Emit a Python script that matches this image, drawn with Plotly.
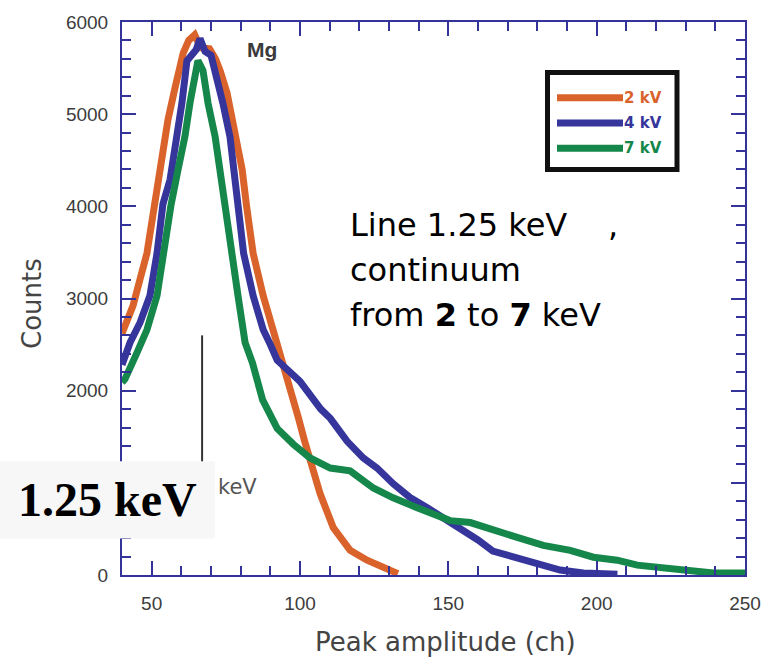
import plotly.graph_objects as go

# Mg line spectra (counts per channel) for three continuum settings
ch_2kv = [40, 41.7, 43.7, 46, 48.4, 50.5, 51.8, 53.5, 55.5, 57.9, 60.6, 62.5, 64.5, 66.5,
          69.5, 71.5, 73.1, 75.4, 78.1, 80.5, 82, 84.2, 87.6, 90, 92, 95, 97.7, 99.5,
          101.5, 103.4, 106.8, 111.2, 116.9, 122.6, 128, 133]
counts_2kv = [2620, 2770, 2920, 3200, 3490, 3920, 4220, 4580, 4940, 5290, 5660, 5800, 5860, 5720,
              5710, 5600, 5470, 5230, 4830, 4400, 4000, 3490, 3030, 2770, 2560, 2230, 1950, 1700,
              1460, 1234, 880, 515, 268, 161, 86, 15]

ch_4kv = [40, 42.7, 46.1, 49.4, 51.8, 53.8, 56.2, 58.5, 60.2, 61.9, 63.5, 65, 66.3, 68, 70,
          72, 74, 76.4, 78, 79.5, 81, 84.2, 87.6, 90, 92.3, 96.7, 100, 104.4, 107, 110.2,
          115.9, 121.3, 126, 131.4, 137.1, 142.9, 148.3, 155, 160, 165, 173, 180, 187.7,
          195.5, 207]
counts_4kv = [2280, 2520, 2740, 3030, 3490, 4025, 4290, 4755, 5120, 5580, 5650, 5700, 5820, 5680, 5640,
              5400, 5120, 4755, 4330, 4000, 3490, 3030, 2660, 2500, 2330, 2200, 2100, 1910, 1800, 1700,
              1450, 1270, 1160, 990, 840, 730, 620, 490, 380, 260, 193, 130, 54,
              21, 8]

ch_7kv = [40, 41, 45.1, 48.4, 51.8, 53.8, 56.5, 58.9, 61.2, 62.9, 64.6, 65.6, 67.3, 69, 71.4,
          73.1, 75, 77.4, 79.1, 81.5, 84, 87.4, 92.3, 97.7, 103.4, 110.2, 116.9, 124.7, 131.4,
          139.5, 147.2, 150.6, 157.4, 165.1, 173.2, 182, 191.1, 198.9, 206.9, 213.7, 222.5,
          231.6, 239.3, 250]
counts_7kv = [2090, 2125, 2415, 2660, 3030, 3490, 4010, 4400, 4755, 5120, 5474, 5580, 5474, 5120, 4755,
              4400, 3950, 3490, 3030, 2520, 2300, 1900, 1590, 1420, 1270, 1160, 1130, 944, 837,
              730, 622, 590, 569, 483, 408, 322, 268, 193, 161, 107, 75,
              54, 21, 21]

series_names = ["2 kV", "4 kV", "7 kV"]
series_colors = ["#d9632b", "#35359b", "#15874a"]
series_x = [ch_2kv, ch_4kv, ch_7kv]
series_y = [counts_2kv, counts_4kv, counts_7kv]

# marker at the Mg K line position
mg_line_ch = 67
mg_line_counts = [1150, 2600]

x_range = [40, 250]
y_range = [0, 6000]
x_ticks = [50, 100, 150, 200, 250]
y_ticks = [0, 1000, 2000, 3000, 4000, 5000, 6000]
# the 1000 label sits under the energy label box
y_tick_text = ["0", "", "2000", "3000", "4000", "5000", "6000"]

W, H = 777, 660
L, R, T, B = 122, 32, 16, 85
PW = W - L - R
PH = H - T - B


def px(xp):
    return (xp - L) / PW


def py(yp):
    return (H - B - yp) / PH


AXIS = "#333399"
SANS = "DejaVu Sans, sans-serif"
ARIAL = "Liberation Sans, Arial, sans-serif"

fig = go.Figure()
for name, color, xs, ys in zip(series_names, series_colors, series_x, series_y):
    fig.add_trace(go.Scatter(x=xs, y=ys, mode="lines", name=name,
                             line=dict(color=color, width=7), showlegend=False))

fig.add_trace(go.Scatter(x=[mg_line_ch, mg_line_ch], y=mg_line_counts, mode="lines",
                         line=dict(color="#333333", width=2), showlegend=False,
                         hoverinfo="skip"))

axis_common = dict(
    showline=True, linecolor=AXIS, linewidth=2, mirror="ticks",
    ticks="inside", ticklen=14, tickwidth=2, tickcolor=AXIS,
    showgrid=False, zeroline=False,
    tickfont=dict(family=ARIAL, size=19, color="#3c3c3c"),
)

fig.update_xaxes(range=x_range, tickvals=x_ticks,
                 minor=dict(dtick=10, ticks="inside", ticklen=9, tickwidth=2,
                            tickcolor=AXIS, showgrid=False),
                 ticklabelstandoff=10, **axis_common)
fig.update_yaxes(range=y_range, tickvals=y_ticks, ticktext=y_tick_text,
                 minor=dict(dtick=200, ticks="inside", ticklen=9, tickwidth=2,
                            tickcolor=AXIS, showgrid=False),
                 ticklabelstandoff=8, **axis_common)

shapes = []
annotations = []

# legend box with coloured bars
shapes.append(dict(type="rect", xref="paper", yref="paper",
                   x0=px(547.5), x1=px(677), y0=py(67), y1=py(165),
                   line=dict(color="#111111", width=5), fillcolor="white", layer="above"))
for i, (name, color) in enumerate(zip(series_names, series_colors)):
    yy = 92.5 + i * 25.5
    shapes.append(dict(type="line", xref="paper", yref="paper",
                       x0=px(557), x1=px(623), y0=py(yy), y1=py(yy),
                       line=dict(color=color, width=7), layer="above"))
    annotations.append(dict(x=px(622), y=py(yy), xref="paper", yref="paper",
                            text="<b>" + name + "</b>", showarrow=False,
                            xanchor="left", yanchor="middle",
                            font=dict(family=SANS, size=15, color=color)))

# label box for the line energy
shapes.append(dict(type="rect", xref="paper", yref="paper",
                   x0=px(0), x1=px(215), y0=py(538), y1=py(460),
                   line=dict(width=0), fillcolor="#f7f7f7", layer="above"))
annotations.append(dict(x=px(107), y=py(499), xref="paper", yref="paper",
                        text="<b>1.25 keV</b>", showarrow=False,
                        xanchor="center", yanchor="middle",
                        font=dict(family="Liberation Serif, Times New Roman, serif",
                                  size=48, color="black")))

annotations.append(dict(x=px(216), y=py(486), xref="paper", yref="paper",
                        text="keV", showarrow=False, xanchor="left", yanchor="middle",
                        font=dict(family=SANS, size=21, color="#555555")))

annotations.append(dict(x=px(262), y=py(44), xref="paper", yref="paper",
                        text="<b>Mg</b>", showarrow=False, xanchor="center", yanchor="middle",
                        font=dict(family=ARIAL, size=21, color="#3a3a3a")))

text_lines = ["Line 1.25 keV\u00a0\u00a0\u00a0\u00a0,", "continuum",
              "from <b>2</b> to <b>7</b> keV"]
for i, t in enumerate(text_lines):
    annotations.append(dict(x=px(348), y=py(221 + i * 45.5), xref="paper", yref="paper",
                            text=t, showarrow=False, xanchor="left", yanchor="middle",
                            font=dict(family=SANS, size=32, color="black")))

# axis titles
annotations.append(dict(x=px(445), y=py(643), xref="paper", yref="paper",
                        text="Peak amplitude (ch)", showarrow=False,
                        xanchor="center", yanchor="middle",
                        font=dict(family=SANS, size=26, color="#444444")))
annotations.append(dict(x=px(32), y=py(301), xref="paper", yref="paper",
                        text="Counts", showarrow=False, textangle=-90,
                        xanchor="center", yanchor="middle",
                        font=dict(family=SANS, size=26, color="#444444")))

fig.update_layout(
    width=W, height=H,
    margin=dict(l=L, r=R, t=T, b=B, pad=0),
    paper_bgcolor="white", plot_bgcolor="white",
    showlegend=False,
    shapes=shapes, annotations=annotations,
)

fig.write_html("out.html")
